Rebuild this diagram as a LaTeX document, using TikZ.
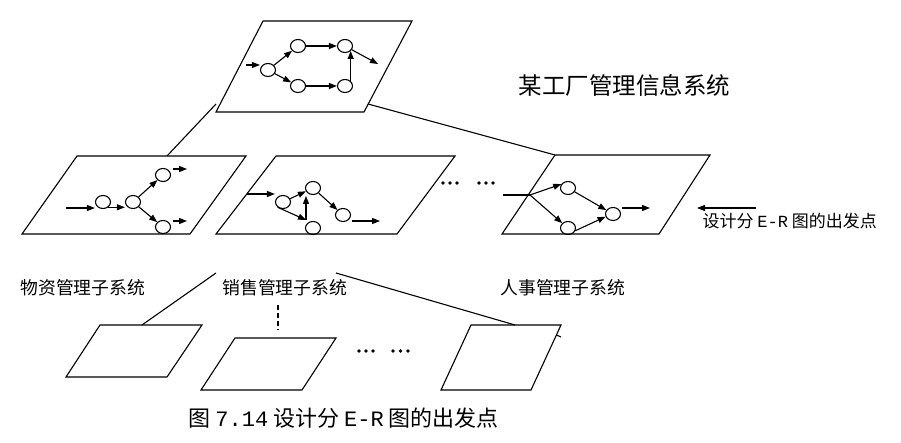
\documentclass[tikz,border=0pt]{standalone}
\usepackage{fontspec}
\newfontfamily\cjk{Noto Sans CJK SC}
\newfontfamily\hw{Liberation Mono}
\usetikzlibrary{shapes.geometric,arrows.meta}
\begin{document}
\begin{tikzpicture}[x=1pt,y=-1pt,line width=1.1pt,
  nd/.style={draw,ellipse,minimum width=15pt,minimum height=13pt,inner sep=0pt},
  arr/.style={-{Triangle[length=8pt,width=6pt]}},
  pg/.style={draw,line width=1.1pt,line join=miter},
  lbl/.style={font=\cjk\fontsize{17.8}{20}\selectfont,inner sep=0pt,anchor=west}]
\useasboundingbox (0,0) rectangle (901,443);
% ---------- top plane ----------
\draw[pg] (216,112) -- (263,21) -- (412,21) -- (364,112) -- cycle;
\node[nd] (t0) at (268,70) {};
\node[nd] (t1) at (298,46) {};
\node[nd] (t2) at (298,86) {};
\node[nd] (t3) at (345,46) {};
\node[nd] (t4) at (345,86) {};
\coordinate (tin) at (246,65);
\coordinate (tout) at (378,64);
\draw[arr] (tin) -- (tin -| t0.west);
\draw[arr] (t0) -- (t1);
\draw[arr] (t0) -- (t2);
\draw[arr] (t1) -- (t3);
\draw[arr] (t2) -- (t4);
\draw[arr] (t4.north east) -- (t3.south east);
\draw[arr] (t3) -- (tout);
\node[lbl,font=\cjk\fontsize{23.5}{26}\selectfont] (title) at (518,85) {某工厂管理信息系统};
% connectors top -> middle
\coordinate (la) at (216,104);
\coordinate (lb) at (167,156);
\coordinate (ra) at (368,104);
\coordinate (rb) at (555,155);
\draw (la) -- (lb);
\draw (ra) -- (rb);
% ---------- middle plane 1 ----------
\draw[pg] (22,234) -- (77,156) -- (246,156) -- (190,234) -- cycle;
\node[nd] (a) at (103,202) {};
\node[nd] (b) at (133,202) {};
\node[nd] (c) at (163,175) {};
\node[nd] (d) at (163,227) {};
\coordinate (ain) at (66,208);
\coordinate (co1) at (187,169);
\coordinate (co2) at (187,221);
\draw[arr] (ain) -- (ain -| a.west);
\draw[arr] (a.-45) -- (a.-45 -| b.west);
\draw[arr] (b) -- (c);
\draw[arr] (b) -- (d);
\draw[arr] (c.east |- co1) ++(2,0) -- (co1);
\draw[arr] (d.east |- co2) ++(2,0) -- (co2);
% ---------- middle plane 2 ----------
\draw[pg] (216,234) -- (276,156) -- (455,156) -- (397,234) -- cycle;
\node[nd] (e) at (283,202) {};
\node[nd] (f) at (313,188) {};
\node[nd] (g) at (343,215) {};
\node[nd] (h) at (313,228) {};
\coordinate (ein) at (247,194);
\coordinate (vb) at (306,220);
\coordinate (vt) at (306,196);
\coordinate (gout) at (380,221);
\draw[arr] (ein) -- (ein -| e.west);
\draw[arr] (e) -- (f);
\draw[arr] (e.225) -- (vb);
\draw[arr] (vb) -- (vt);
\draw[arr] (f) -- (g);
\draw[arr] (g.-30 |- gout) ++(2,0) -- (gout);
% dots middle
\foreach \x in {443,450,457,479,486,493} \fill (\x,183) circle (1.8);
% ---------- middle plane 3 ----------
\draw[pg] (502,234) -- (555,155) -- (710,155) -- (659,234) -- cycle;
\node[nd] (i) at (568,188) {};
\node[nd] (j) at (568,228) {};
\node[nd] (k) at (613,214) {};
\coordinate (pin) at (503,195);
\coordinate (sp) at (530,195);
\coordinate (kout) at (650,208);
\draw (pin) -- (sp);
\draw[arr] (sp) -- (i.150);
\draw[arr] (sp) -- (j.140);
\draw[arr] (i) -- (k);
\draw[arr] (j.-20) -- (k.200);
\draw[arr] (k.east |- kout) ++(1,0) -- (kout);
% right pointer
\coordinate (rr) at (756,208);
\coordinate (rl) at (697,208);
\draw[arr] (rr) -- (rl);
\node[lbl,font=\cjk\fontsize{17}{19}\selectfont] (start) at (702,221) {设计分 {\hw E-R} 图的出发点};
% ---------- labels ----------
\node[lbl] (l1) at (20,288) {物资管理子系统};
\node[lbl] (l2) at (222,288) {销售管理子系统};
\node[lbl] (l3) at (500,288) {人事管理子系统};
% connectors to bottom
\coordinate (bla) at (216,273);
\coordinate (blb) at (142,325);
\coordinate (bra) at (336,273);
\coordinate (brb) at (515,325);
\draw (bla) -- (blb);
\draw (bra) -- (brb);
\coordinate (da) at (278,305);
\coordinate (db) at (278,330);
\draw[line width=2pt,dash pattern=on 5pt off 3pt] (da) -- (db);
% ---------- bottom planes ----------
\draw[pg] (66,377) -- (100,325) -- (202,325) -- (167,377) -- cycle;
\draw[pg] (201,390) -- (235,338) -- (336,338) -- (302,390) -- cycle;
\draw[pg] (441,390) -- (471,325) -- (561,325) -- (531,390) -- cycle;
\draw (556.4,335) -- (561,337);
\foreach \x in {359,366,373,393,400.5,408} \fill (\x,351) circle (1.8);
% caption
\node[lbl,font=\cjk\fontsize{22}{24}\selectfont] (cap) at (188,418) {图 {\hw 7.14} 设计分 {\hw E-R} 图的出发点};
\end{tikzpicture}
\end{document}
